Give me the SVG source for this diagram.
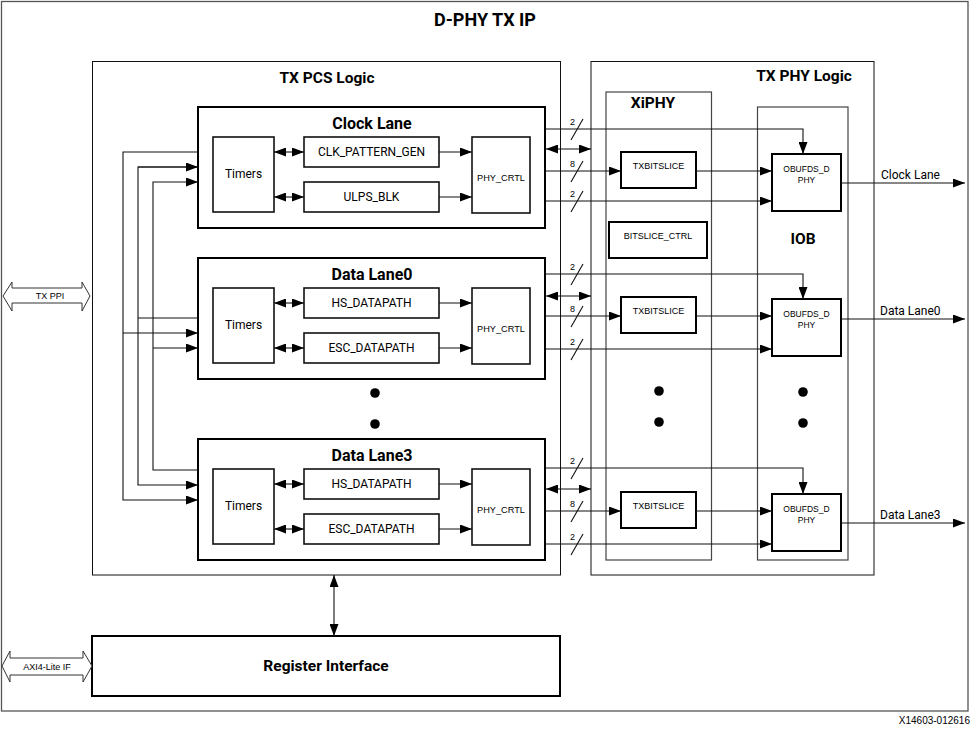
<svg xmlns="http://www.w3.org/2000/svg" width="977" height="731" viewBox="0 0 977 731">
<style>
.frame{fill:#fff;stroke:#555;stroke-width:1.3}
.thin{fill:none;stroke:#111;stroke-width:1}
.gray{fill:none;stroke:#444;stroke-width:1.2}
.lane{fill:#fff;stroke:#000;stroke-width:2}
.blk{fill:#fff;stroke:#111;stroke-width:1.6}
.ln{fill:none;stroke:#111;stroke-width:1.1}
.t{font-family:Roboto,"Liberation Sans",sans-serif;fill:#000}
.a{font-family:"Liberation Sans",Arial,sans-serif;fill:#000}
.b{font-family:Roboto,"Liberation Sans",sans-serif;font-weight:bold;fill:#000}
.dot{fill:#000}
</style>
<defs>
<marker id="ah" viewBox="0 0 12 9" refX="12" refY="4.5" markerWidth="12" markerHeight="9" markerUnits="userSpaceOnUse" orient="auto-start-reverse">
<path d="M0,0 L12,4.5 L0,9 z" fill="#000"/>
</marker>
</defs>
<rect width="977" height="731" fill="#fff"/>
<g id="frame">
<rect class="frame" x="1.5" y="1.5" width="966.5" height="709.5"/>
<text class="b" x="485" y="26" font-size="18" text-anchor="middle">D-PHY TX IP</text>
<text class="a" x="970" y="724" font-size="10" text-anchor="end">X14603-012616</text>
</g>
<g id="tx-pcs">
<rect class="thin" x="92.5" y="61.5" width="468" height="513.5"/>
<text class="b" x="327" y="83" font-size="15.5" text-anchor="middle">TX PCS Logic</text>
<circle class="dot" cx="375" cy="393" r="4.8"/>
<circle class="dot" cx="375" cy="424" r="4.8"/>
</g>
<g id="tx-phy">
<rect class="thin" x="591" y="61.5" width="283" height="513.5"/>
<text class="b" x="804" y="81" font-size="15.5" text-anchor="middle">TX PHY Logic</text>
</g>
<g id="xiphy">
<rect class="gray" x="606" y="92" width="105.5" height="468"/>
<text class="b" x="653" y="108" font-size="15.5" text-anchor="middle">XiPHY</text>
<circle class="dot" cx="659" cy="391" r="4.8"/>
<circle class="dot" cx="659" cy="422" r="4.8"/>
</g>
<g id="iob">
<rect class="gray" x="757.5" y="107" width="90.5" height="453"/>
<text class="b" x="803" y="244" font-size="15.5" text-anchor="middle">IOB</text>
<circle class="dot" cx="803" cy="392" r="4.8"/>
<circle class="dot" cx="803" cy="423" r="4.8"/>
</g>
<g id="bitslice-ctrl">
<rect class="lane" x="609" y="222" width="98" height="36"/>
<text class="a" x="658" y="239" font-size="9" text-anchor="middle">BITSLICE_CTRL</text>
</g>
<g id="clock-lane">
<rect class="lane" x="198" y="107" width="347" height="121"/>
<text class="b" x="372" y="129" font-size="16" text-anchor="middle">Clock Lane</text>
<rect class="blk" x="213" y="137" width="61" height="75"/>
<text class="t" x="243.5" y="178" font-size="12" text-anchor="middle">Timers</text>
<rect class="blk" x="304" y="137" width="135" height="30"/>
<text class="t" x="371.5" y="156" font-size="12" text-anchor="middle">CLK_PATTERN_GEN</text>
<rect class="blk" x="304" y="182" width="135" height="30"/>
<text class="t" x="371.5" y="201" font-size="12" text-anchor="middle">ULPS_BLK</text>
<rect class="blk" x="472" y="137" width="58" height="76"/>
<text class="a" x="501" y="181" font-size="9.2" text-anchor="middle">PHY_CRTL</text>
</g>
<g id="data-lane0">
<rect class="lane" x="198" y="258" width="347" height="121"/>
<text class="b" x="372" y="280" font-size="16" text-anchor="middle">Data Lane0</text>
<rect class="blk" x="213" y="288" width="61" height="75"/>
<text class="t" x="243.5" y="329" font-size="12" text-anchor="middle">Timers</text>
<rect class="blk" x="304" y="288" width="135" height="30"/>
<text class="t" x="371.5" y="307" font-size="12" text-anchor="middle">HS_DATAPATH</text>
<rect class="blk" x="304" y="333" width="135" height="30"/>
<text class="t" x="371.5" y="352" font-size="12" text-anchor="middle">ESC_DATAPATH</text>
<rect class="blk" x="472" y="288" width="58" height="76"/>
<text class="a" x="501" y="332" font-size="9.2" text-anchor="middle">PHY_CRTL</text>
</g>
<g id="data-lane3">
<rect class="lane" x="198" y="439" width="347" height="121"/>
<text class="b" x="372" y="461" font-size="16" text-anchor="middle">Data Lane3</text>
<rect class="blk" x="213" y="469" width="61" height="75"/>
<text class="t" x="243.5" y="510" font-size="12" text-anchor="middle">Timers</text>
<rect class="blk" x="304" y="469" width="135" height="30"/>
<text class="t" x="371.5" y="488" font-size="12" text-anchor="middle">HS_DATAPATH</text>
<rect class="blk" x="304" y="514" width="135" height="30"/>
<text class="t" x="371.5" y="533" font-size="12" text-anchor="middle">ESC_DATAPATH</text>
<rect class="blk" x="472" y="469" width="58" height="76"/>
<text class="a" x="501" y="513" font-size="9.2" text-anchor="middle">PHY_CRTL</text>
</g>
<g id="txbitslice-0">
<rect class="lane" x="621" y="152" width="75" height="36"/>
<text class="a" x="658.5" y="169" font-size="9" text-anchor="middle">TXBITSLICE</text>
</g>
<g id="txbitslice-1">
<rect class="lane" x="621" y="297" width="75" height="36"/>
<text class="a" x="658.5" y="314" font-size="9" text-anchor="middle">TXBITSLICE</text>
</g>
<g id="txbitslice-3">
<rect class="lane" x="621" y="492" width="75" height="36"/>
<text class="a" x="658.5" y="509" font-size="9" text-anchor="middle">TXBITSLICE</text>
</g>
<g id="obufds-0">
<rect class="lane" x="772" y="154" width="69" height="57"/>
<text class="a" x="806.5" y="172" font-size="8.5" text-anchor="middle">OBUFDS_D</text>
<text class="a" x="806.5" y="183" font-size="8.5" text-anchor="middle">PHY</text>
</g>
<g id="obufds-1">
<rect class="lane" x="772" y="299" width="69" height="57"/>
<text class="a" x="806.5" y="317" font-size="8.5" text-anchor="middle">OBUFDS_D</text>
<text class="a" x="806.5" y="328" font-size="8.5" text-anchor="middle">PHY</text>
</g>
<g id="obufds-3">
<rect class="lane" x="772" y="494" width="69" height="57"/>
<text class="a" x="806.5" y="512" font-size="8.5" text-anchor="middle">OBUFDS_D</text>
<text class="a" x="806.5" y="523" font-size="8.5" text-anchor="middle">PHY</text>
</g>
<g id="register-interface">
<rect class="lane" x="92" y="636" width="468" height="60"/>
<text class="b" x="326" y="671" font-size="15.5" text-anchor="middle">Register Interface</text>
</g>
<g id="tx-ppi">
<polygon points="3,296 12,282 12,288 82,288 82,282 90,296 82,311 82,303 12,303 12,311" fill="#fff" stroke="#333" stroke-width="1"/>
<text class="a" x="50" y="299" font-size="9" text-anchor="middle">TX PPI</text>
</g>
<g id="axi4-lite">
<polygon points="2,666 10,651 10,658 83,658 83,651 92,666 83,682 83,675 10,675 10,682" fill="#fff" stroke="#333" stroke-width="1"/>
<text class="a" x="47" y="669.5" font-size="9" text-anchor="middle">AXI4-Lite IF</text>
</g>
<g id="connectors">
<path class="ln" d="M198,152 H123 V500 H198" marker-end="url(#ah)"/>
<path class="ln" d="M123,333 H198" marker-end="url(#ah)"/>
<path class="ln" d="M198,318 H138"/>
<path class="ln" d="M198,167 H138 V485 H198" marker-end="url(#ah)"/>
<path class="ln" d="M138,167 H198" marker-end="url(#ah)"/>
<path class="ln" d="M198,470 H153 V182 H198" marker-end="url(#ah)"/>
<path class="ln" d="M153,348 H198" marker-end="url(#ah)"/>
<path class="ln" d="M274,152 H304" marker-start="url(#ah)" marker-end="url(#ah)"/>
<path class="ln" d="M274,197 H304" marker-start="url(#ah)" marker-end="url(#ah)"/>
<path class="ln" d="M274,303 H304" marker-start="url(#ah)" marker-end="url(#ah)"/>
<path class="ln" d="M274,348 H304" marker-start="url(#ah)" marker-end="url(#ah)"/>
<path class="ln" d="M274,484 H304" marker-start="url(#ah)" marker-end="url(#ah)"/>
<path class="ln" d="M274,529 H304" marker-start="url(#ah)" marker-end="url(#ah)"/>
<path class="ln" d="M439,152 H472" marker-end="url(#ah)"/>
<path class="ln" d="M439,197 H472" marker-end="url(#ah)"/>
<path class="ln" d="M439,303 H472" marker-end="url(#ah)"/>
<path class="ln" d="M439,348 H472" marker-end="url(#ah)"/>
<path class="ln" d="M439,484 H472" marker-end="url(#ah)"/>
<path class="ln" d="M439,529 H472" marker-end="url(#ah)"/>
<path class="ln" d="M546,129 H803 V154" marker-end="url(#ah)"/>
<path class="ln" d="M546,149 H591" marker-start="url(#ah)" marker-end="url(#ah)"/>
<path class="ln" d="M546,171 H621" marker-end="url(#ah)"/>
<path class="ln" d="M696,171 H772" marker-end="url(#ah)"/>
<path class="ln" d="M546,201 H772" marker-end="url(#ah)"/>
<path class="ln" d="M841,183 H965" marker-end="url(#ah)"/>
<path class="ln" d="M546,274 H803 V299" marker-end="url(#ah)"/>
<path class="ln" d="M546,296 H591" marker-start="url(#ah)" marker-end="url(#ah)"/>
<path class="ln" d="M546,316 H621" marker-end="url(#ah)"/>
<path class="ln" d="M696,316 H772" marker-end="url(#ah)"/>
<path class="ln" d="M546,349 H772" marker-end="url(#ah)"/>
<path class="ln" d="M841,319 H965" marker-end="url(#ah)"/>
<path class="ln" d="M546,468 H803 V494" marker-end="url(#ah)"/>
<path class="ln" d="M546,489 H591" marker-start="url(#ah)" marker-end="url(#ah)"/>
<path class="ln" d="M546,511 H621" marker-end="url(#ah)"/>
<path class="ln" d="M696,511 H772" marker-end="url(#ah)"/>
<path class="ln" d="M546,544 H772" marker-end="url(#ah)"/>
<path class="ln" d="M841,523 H965" marker-end="url(#ah)"/>
<path class="ln" d="M334,575 V636" marker-start="url(#ah)" marker-end="url(#ah)"/>
<g class="ln">
<path d="M571,140 L583,119"/><path d="M571,182 L583,161"/><path d="M571,212 L583,191"/>
<path d="M571,285 L583,264"/><path d="M571,327 L583,306"/><path d="M571,360 L583,339"/>
<path d="M571,479 L583,458"/><path d="M571,522 L583,501"/><path d="M571,555 L583,534"/>
</g>
<g class="a" font-size="9" text-anchor="middle">
<text x="572.5" y="125">2</text><text x="572.5" y="167">8</text><text x="572.5" y="197">2</text>
<text x="572.5" y="270">2</text><text x="572.5" y="312">8</text><text x="572.5" y="345">2</text>
<text x="572.5" y="464">2</text><text x="572.5" y="507">8</text><text x="572.5" y="540">2</text>
</g>
<g class="t" font-size="12">
<text x="881" y="179">Clock Lane</text>
<text x="880" y="315">Data Lane0</text>
<text x="880" y="519">Data Lane3</text>
</g>
</g>
</svg>
